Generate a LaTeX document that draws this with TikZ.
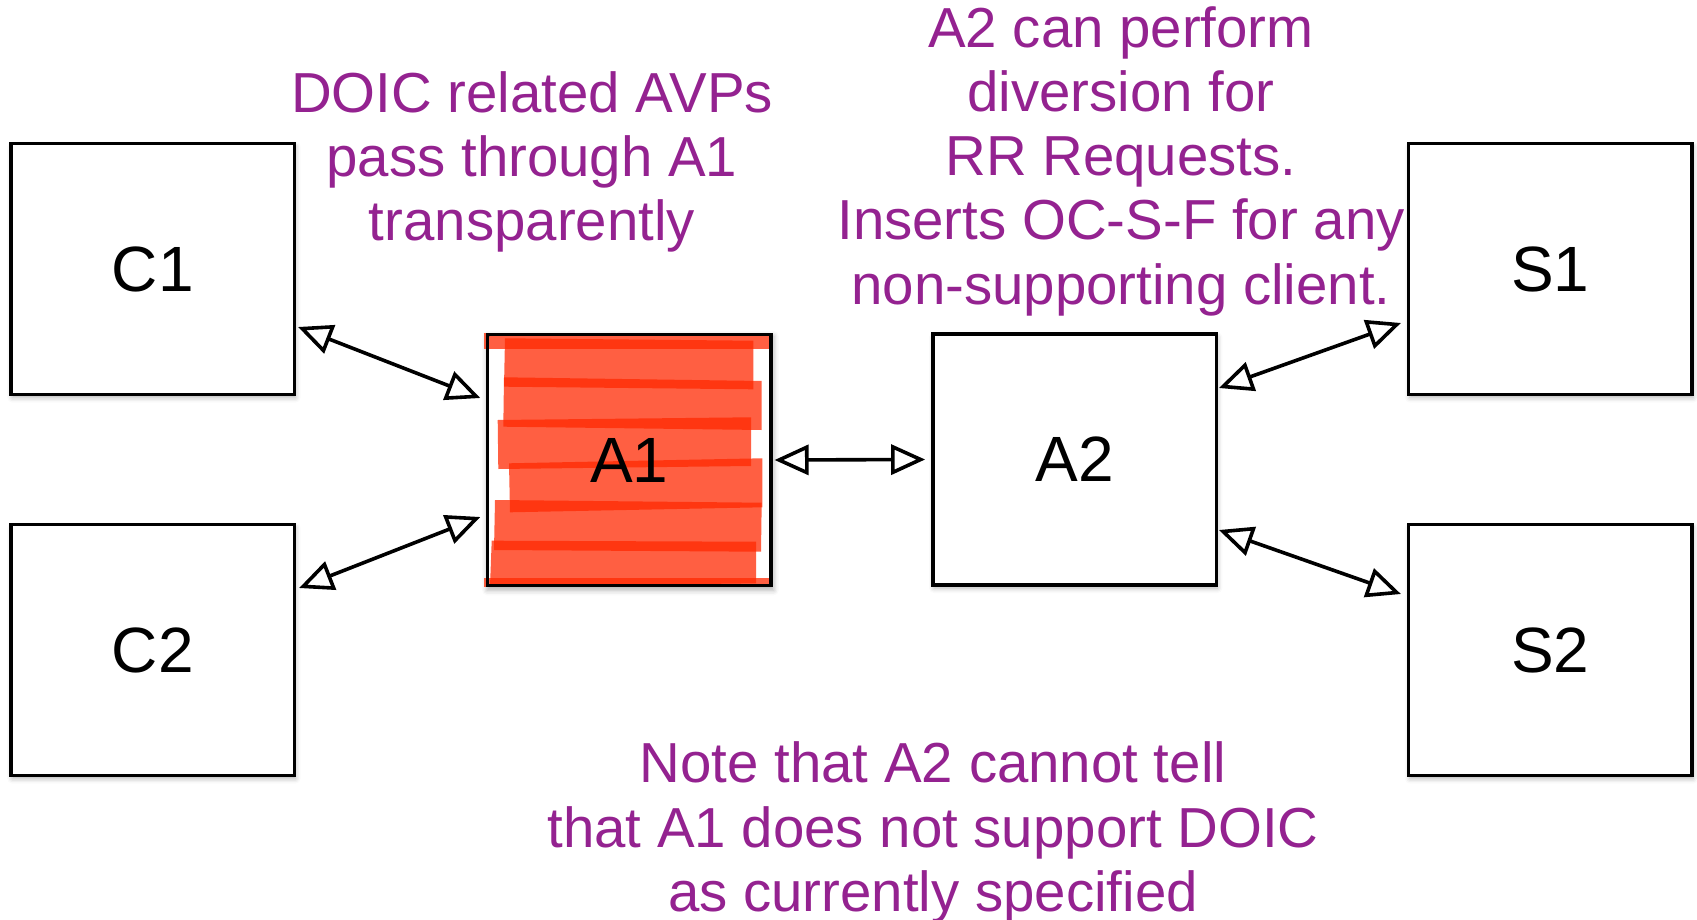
\documentclass[tikz,border=0pt]{standalone}
\usepackage{fontspec}
\setmainfont{Liberation Sans}
\usetikzlibrary{arrows.meta,shadows.blur}

\definecolor{notepurple}{RGB}{148,34,144}
\definecolor{scribble}{RGB}{255,40,0}

\pgfdeclarelayer{boxback}
\pgfdeclarelayer{ink}
\pgfsetlayers{boxback,ink,main}

\begin{document}
\begin{tikzpicture}[x=0.5pt,y=-0.5pt,
  boxshadow/.style={blur shadow={shadow xshift=0.6pt, shadow yshift=-1.6pt,
                 shadow blur radius=2.5pt, shadow opacity=30}},
  box/.style={draw=black, line width=1.7pt, fill=white, boxshadow,
    minimum width=141.7pt, minimum height=125.4pt, inner sep=0pt,
    font=\fontsize{32pt}{36pt}\selectfont},
  note/.style={text=notepurple, align=center, anchor=base, inner sep=0pt,
    font=\fontsize{28.2pt}{32.1pt}\selectfont},
  link/.style={line width=1.8pt,
    {Triangle[open,length=17pt,width=15pt]}-{Triangle[open,length=17pt,width=15pt]}},
  scribblefill/.style={fill=scribble, fill opacity=0.74, draw=none},
]
\useasboundingbox (0,0) rectangle (1697,920);

% boxes
\node[box] (C1) at (152.7,269) {C1};
\node[box] (C2) at (152.7,650) {C2};
\node[box, fill=none, blur shadow={shadow opacity=0}] (A1) at (629.2,460) {A1};
\node[box] (A2) at (1074.5,459.5) {A2};
\node[box] (S1) at (1550.3,269) {S1};
\node[box] (S2) at (1550.3,650) {S2};

% white backing and shadow of A1, under the marker strokes
\begin{pgfonlayer}{boxback}
  \path[fill=white, boxshadow] (A1.north west) rectangle (A1.south east);
\end{pgfonlayer}

% red marker strokes scribbled over A1
\begin{pgfonlayer}{ink}
  \fill[scribblefill] (484,333.3) -- (771.7,333.3) -- (771.7,349.3) -- (484,349.3) -- cycle;
  \fill[scribblefill] (505,338.3) -- (753.3,340.7) -- (753.3,389.3) -- (504,386.7) -- cycle;
  \fill[scribblefill] (504,377.3) -- (761.7,381) -- (761.7,430) -- (503.3,426.7) -- cycle;
  \fill[scribblefill] (497.7,420) -- (751,417.3) -- (751,466) -- (498.3,469) -- cycle;
  \fill[scribblefill] (509,463.3) -- (762.3,458.3) -- (762.3,507.3) -- (510,512.3) -- cycle;
  \fill[scribblefill] (495,500) -- (761.7,502.7) -- (761,551.7) -- (494,550) -- cycle;
  \fill[scribblefill] (491.7,540.7) -- (756,541.7) -- (756,583.3) -- (490,586.7) -- cycle;
  \fill[scribblefill] (484,578.3) -- (771.7,578.3) -- (771.7,587) -- (484,587) -- cycle;
\end{pgfonlayer}

% connectors
\draw[link] ([xshift=1pt,yshift=-29pt]C1.east) -- ([xshift=-2.75pt,yshift=31pt]A1.west);
\draw[link] ([xshift=1.5pt,yshift=31pt]C2.east) -- ([xshift=-2.75pt,yshift=-28.5pt]A1.west);
\draw[link] ([xshift=1pt]A1.east) -- ([xshift=-3pt]A2.west);
\draw[link] ([xshift=0.5pt,yshift=35.75pt]A2.east) -- ([xshift=-3pt,yshift=-27pt]S1.west);
\draw[link] ([xshift=0.5pt,yshift=-35.25pt]A2.east) -- ([xshift=-3pt,yshift=28pt]S2.west);

% annotations (anchored at the baseline of their last line)
\node[note] (n1) at (532,240.5) {DOIC related AVPs\\pass through A1\\transparently};
\node[note] (n2) at (1121,304) {A2 can perform\\diversion for\\RR Requests.\\Inserts OC-S-F for any\\non-supporting client.};
\node[note] (n3) at (933,911.3) {Note that A2 cannot tell\\that A1 does not support DOIC\\as currently specified};
\end{tikzpicture}
\end{document}
